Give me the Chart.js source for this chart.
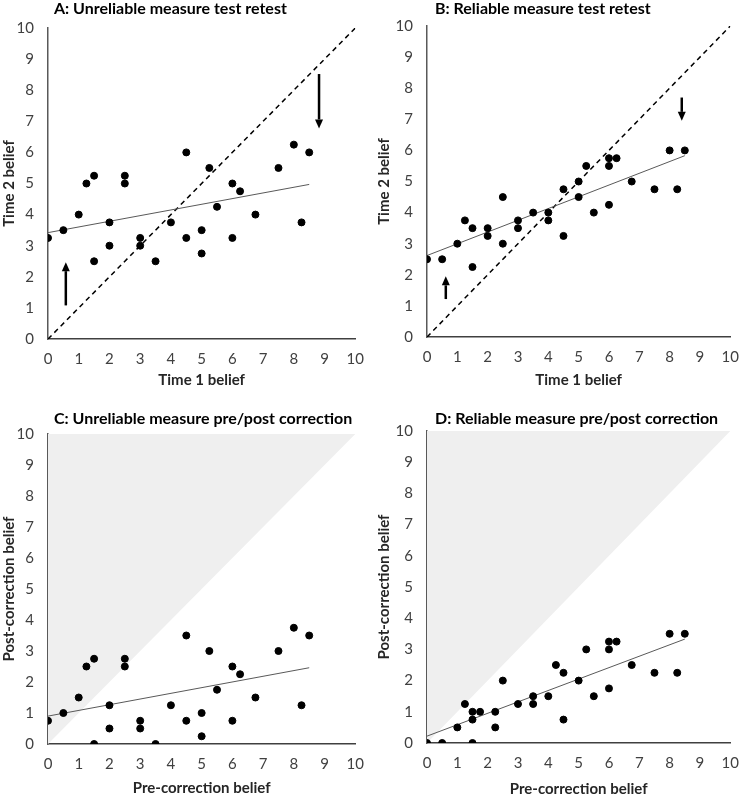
<!DOCTYPE html>
<html>
<head>
<meta charset="utf-8">
<script src="https://cdn.jsdelivr.net/npm/chart.js@4.4.1/dist/chart.umd.min.js"></script>
<style>
  body { margin: 0; background: #fff; width: 750px; height: 798px; position: relative; overflow: hidden; }
  .panel { position: absolute; width: 375px; }
  .ttl { position: absolute; font: bold 16px Lato, sans-serif; line-height: 18px; color: #000; white-space: nowrap; }
</style>
</head>
<body>
<div class="panel" style="left:0;top:0;height:400px"><canvas id="chartA"></canvas></div>
<div class="panel" style="left:375px;top:0;height:400px"><canvas id="chartB"></canvas></div>
<div class="panel" style="left:0;top:399px;height:399px"><canvas id="chartC"></canvas></div>
<div class="panel" style="left:375px;top:399px;height:399px"><canvas id="chartD"></canvas></div>
<div class="ttl" style="left:54px;top:-1px">A: Unreliable measure test retest</div>
<div class="ttl" style="left:435px;top:-1px">B: Reliable measure test retest</div>
<div class="ttl" style="left:54px;top:409px">C: Unreliable measure pre/post correction</div>
<div class="ttl" style="left:435px;top:409px">D: Reliable measure pre/post correction</div>
<script>
// Panel A: unreliable test retest
const aX = [0, 0.5, 1, 1.25, 1.5, 1.5, 2, 2, 2.5, 2.5, 3, 3, 3.5, 4, 4.5, 4.5, 5, 5, 5.25, 5.5, 6, 6, 6.25, 6.75, 7.5, 8, 8.25, 8.5];
const aY = [3.25, 3.5, 4, 5, 5.25, 2.5, 3.75, 3, 5.25, 5, 3.25, 3, 2.5, 3.75, 6, 3.25, 3.5, 2.75, 5.5, 4.25, 5, 3.25, 4.75, 4, 5.5, 6.25, 3.75, 6];
const aTrend = [{x: 0, y: 3.42}, {x: 8.5, y: 4.97}];
const aArrows = [{x: 0.58, from: 1.08, to: 2.47}, {x: 8.82, from: 8.52, to: 6.77}];

// Panel B: reliable test retest
const bX = [0, 0.5, 1, 1.25, 1.5, 1.5, 2, 2, 2.5, 2.5, 3, 3, 3.5, 4, 4, 4.5, 4.5, 5, 5, 5.25, 5.5, 6, 6, 6, 6.25, 6.75, 7.5, 8, 8.25, 8.5];
const bY = [2.5, 2.5, 3, 3.75, 3.5, 2.25, 3.5, 3.25, 4.5, 3, 3.75, 3.5, 4, 4, 3.75, 4.75, 3.25, 5, 4.5, 5.5, 4, 5.75, 5.5, 4.25, 5.75, 5, 4.75, 6, 4.75, 6];
const bTrend = [{x: 0, y: 2.62}, {x: 8.5, y: 5.83}];
const bArrows = [{x: 0.62, from: 1.22, to: 1.95}, {x: 8.4, from: 7.7, to: 6.95}];

// Panel C: unreliable pre/post correction
const cX = [0, 0.5, 1, 1.25, 1.5, 1.5, 2, 2, 2.5, 2.5, 3, 3, 3.5, 4, 4.5, 4.5, 5, 5, 5.25, 5.5, 6, 6, 6.25, 6.75, 7.5, 8, 8.25, 8.5];
const cY = [0.75, 1, 1.5, 2.5, 2.75, 0, 1.25, 0.5, 2.75, 2.5, 0.75, 0.5, 0, 1.25, 3.5, 0.75, 1, 0.25, 3, 1.75, 2.5, 0.75, 2.25, 1.5, 3, 3.75, 1.25, 3.5];
const cTrend = [{x: 0, y: 0.9}, {x: 8.5, y: 2.46}];

// Panel D: reliable pre/post correction
const dX = [0, 0.5, 1, 1.25, 1.5, 1.5, 1.5, 1.75, 2.25, 2.25, 2.5, 3, 3.5, 3.5, 4, 4.25, 4.5, 4.5, 5, 5.25, 5.5, 6, 6, 6, 6.25, 6.75, 7.5, 8, 8.25, 8.5];
const dY = [0, 0, 0.5, 1.25, 1, 0.75, 0, 1, 1, 0.5, 2, 1.25, 1.5, 1.25, 1.5, 2.5, 2.25, 0.75, 2, 3, 1.5, 3.25, 3, 1.75, 3.25, 2.5, 2.25, 3.5, 2.25, 3.5];
const dTrend = [{x: 0, y: 0.22}, {x: 8.5, y: 3.33}];

const identity = [{x: 0, y: 0}, {x: 10, y: 10}];
const axisTicks = [0, 1, 2, 3, 4, 5, 6, 7, 8, 9, 10];

// draw the arrows in data units through the chart scales
const arrowPlugin = {
    id: 'arrows',
    afterDatasetsDraw(chart, args, opts) {
        if (!opts.list) return;
        const ctx = chart.ctx;
        const xs = chart.scales.x, ys = chart.scales.y;
        ctx.save();
        ctx.strokeStyle = '#000';
        ctx.fillStyle = '#000';
        ctx.lineWidth = 2.5;
        opts.list.forEach(a => {
            const px = xs.getPixelForValue(a.x);
            const y1 = ys.getPixelForValue(a.from);
            const y2 = ys.getPixelForValue(a.to);
            const dir = y2 < y1 ? -1 : 1;
            const head = 9;
            ctx.beginPath();
            ctx.moveTo(px, y1);
            ctx.lineTo(px, y2 - dir * head);
            ctx.stroke();
            ctx.beginPath();
            ctx.moveTo(px, y2);
            ctx.lineTo(px - 4, y2 - dir * head);
            ctx.lineTo(px + 4, y2 - dir * head);
            ctx.closePath();
            ctx.fill();
        });
        ctx.restore();
    }
};

function toPoints(xs, ys) {
    return xs.map((x, i) => ({x: x, y: ys[i]}));
}

function makeChart(id, cfg) {
    const datasets = [];
    if (cfg.shade) {
        datasets.push({
            type: 'line', data: identity, showLine: true, borderWidth: 0,
            pointRadius: 0, fill: 'end', backgroundColor: '#efefef', order: 5
        });
    }
    if (cfg.diagonal) {
        datasets.push({
            type: 'line', data: identity, showLine: true, borderColor: '#000',
            borderWidth: 1.5, borderDash: [5, 4], pointRadius: 0, fill: false, order: 3
        });
    }
    datasets.push({
        type: 'line', data: cfg.trend, showLine: true, borderColor: '#595959',
        borderWidth: 1, pointRadius: 0, fill: false, order: 2
    });
    datasets.push({
        data: toPoints(cfg.xs, cfg.ys), backgroundColor: '#000', borderColor: '#000',
        pointRadius: 3.5, pointHoverRadius: 3.5, order: 1
    });

    const font = {family: 'Lato', size: 15};
    const titleFont = {family: 'Lato', size: 15, weight: 'bold'};

    return new Chart(document.getElementById(id), {
        type: 'scatter',
        data: {datasets: datasets},
        options: {
            responsive: true,
            maintainAspectRatio: false,
            animation: false,
            events: [],
            layout: {padding: {top: cfg.area.top, right: cfg.area.right, left: 0, bottom: 0}},
            plugins: {
                legend: {display: false},
                tooltip: {enabled: false},
                arrows: {list: cfg.arrows}
            },
            scales: {
                x: {
                    type: 'linear', min: 0, max: 10,
                    afterBuildTicks: s => { s.ticks = axisTicks.map(v => ({value: v})); },
                    afterFit: s => { s.height = cfg.area.xh; },
                    grid: {display: false, drawTicks: false},
                    border: {display: true, color: '#404040', width: 1.5},
                    ticks: {color: '#404040', font: font, padding: 11, maxRotation: 0, autoSkip: false},
                    title: {display: true, text: cfg.xTitle, color: '#262626', font: titleFont,
                            padding: {top: 0, bottom: cfg.area.xtPad}}
                },
                y: {
                    type: 'linear', min: 0, max: 10,
                    afterBuildTicks: s => { s.ticks = axisTicks.map(v => ({value: v})); },
                    afterFit: s => { s.width = cfg.area.left; },
                    grid: {display: false, drawTicks: false},
                    border: {display: true, color: '#595959', width: 1.5},
                    ticks: {color: '#404040', font: font, padding: 14, autoSkip: false},
                    title: {display: true, text: cfg.yTitle, color: '#262626', font: titleFont,
                            padding: {top: 0, bottom: 0}}
                }
            }
        },
        plugins: [arrowPlugin]
    });
}

makeChart('chartA', {
    xs: aX, ys: aY, trend: aTrend, diagonal: true, arrows: aArrows,
    xTitle: 'Time 1 belief', yTitle: 'Time 2 belief',
    area: {left: 48, right: 14, top: 28, xh: 61, xtPad: 11}
});
makeChart('chartB', {
    xs: bX, ys: bY, trend: bTrend, diagonal: true, arrows: bArrows,
    xTitle: 'Time 1 belief', yTitle: 'Time 2 belief',
    area: {left: 52, right: 13, top: 26, xh: 63, xtPad: 11}
});
makeChart('chartC', {
    xs: cX, ys: cY, trend: cTrend, shade: true,
    xTitle: 'Pre-correction belief', yTitle: 'Post-correction belief',
    area: {left: 48, right: 17, top: 35, xh: 54, xtPad: 1}
});
makeChart('chartD', {
    xs: dX, ys: dY, trend: dTrend, shade: true,
    xTitle: 'Pre-correction belief', yTitle: 'Post-correction belief',
    area: {left: 52, right: 13, top: 32, xh: 55, xtPad: 0}
});
</script>
</body>
</html>
